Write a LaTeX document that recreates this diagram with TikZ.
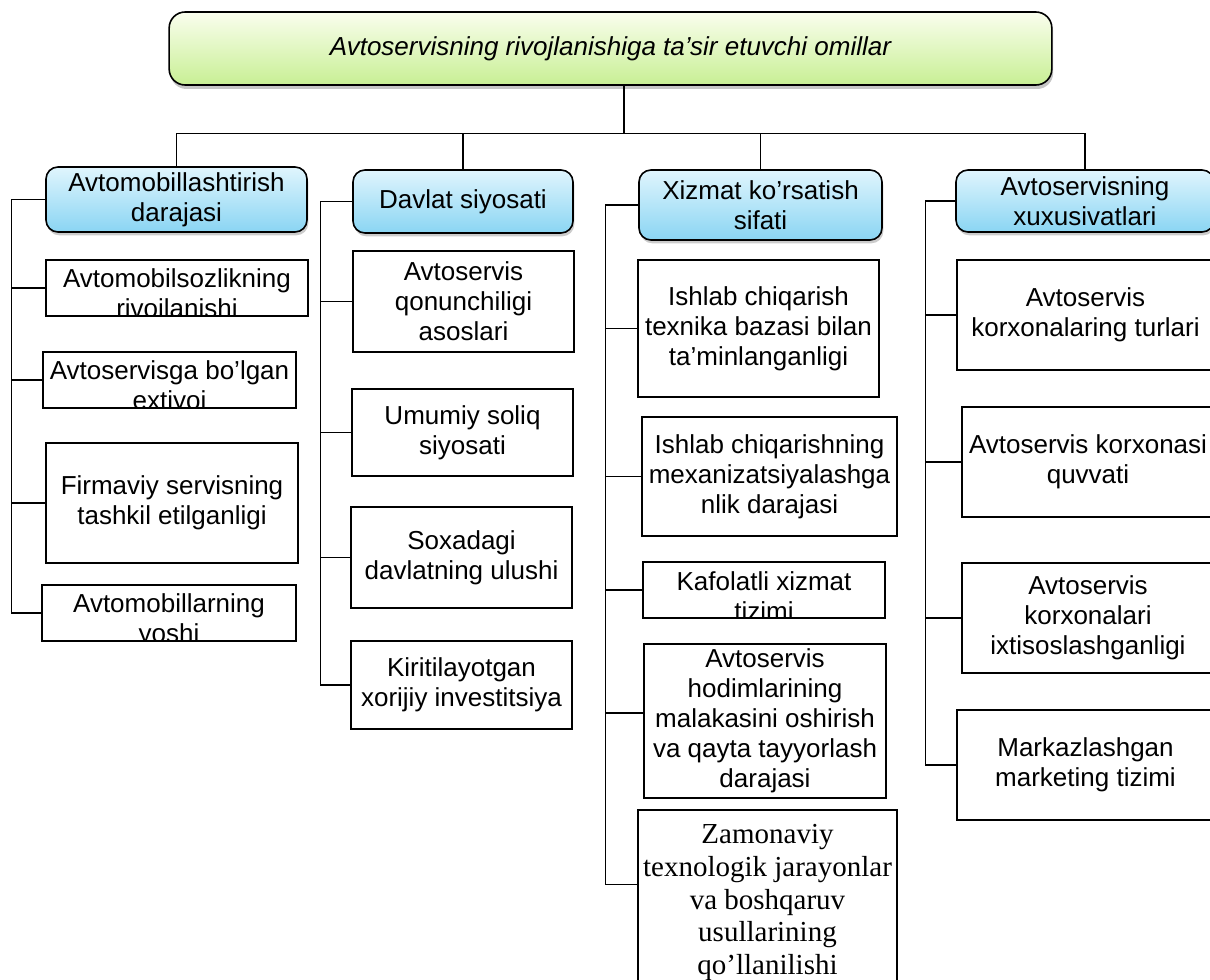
\documentclass[tikz,border=0pt]{standalone}
\usepackage{fontspec}
\setmainfont{Liberation Sans}
\newfontfamily\timesfont{Liberation Serif}
\usetikzlibrary{shadows}
\definecolor{hdtop}{RGB}{224,245,253}
\definecolor{hdbot}{RGB}{138,213,243}
\definecolor{ttltop}{RGB}{250,254,238}
\definecolor{ttlbot}{RGB}{200,239,148}

\begin{document}
\begin{tikzpicture}[x=0.75pt,y=-0.75pt,
  txt/.style={font=\fontsize{19.5}{22.5}\selectfont,align=center,inner sep=0pt},
  leaf/.style={draw,line width=1.4pt,fill=white,txt},
  headbox/.style={draw,line width=1.2pt,rounded corners=9pt,top color=hdtop,bottom color=hdbot,
    drop shadow={shadow xshift=1pt,shadow yshift=-2.5pt,opacity=.4},txt},
  titlebox/.style={draw,line width=1.2pt,rounded corners=12pt,top color=ttltop,bottom color=ttlbot,
    drop shadow={shadow xshift=1pt,shadow yshift=-3pt,opacity=.45},txt,font=\fontsize{19.5}{22.5}\selectfont\itshape},
  link/.style={line width=1pt}]
\useasboundingbox (0,0) rectangle (1210,980);
\clip (0,0) rectangle (1210,980);

\node[titlebox,minimum width=662pt,minimum height=54.75pt] (omil) at (610.5,48.5) {Avtoservisning rivojlanishiga ta’sir etuvchi omillar};

\node[headbox,minimum width=195.75pt,minimum height=48.75pt] (h1) at (176.5,199.5) {Avtomobillashtirish\\darajasi};
\node[headbox,minimum width=165pt,minimum height=47.25pt] (h2) at (463,201.5) {Davlat siyosati};
\node[headbox,minimum width=182.25pt,minimum height=52.5pt] (h3) at (760.5,205) {Xizmat ko’rsatish\\sifati};
\node[headbox,minimum width=193.5pt,minimum height=46.5pt] (h4) at (1085,201) {Avtoservisning\\xuxusivatlari};

\node[leaf,minimum width=196.5pt,minimum height=42pt] (b11) at (177,288) {};
\node[leaf,minimum width=189.75pt,minimum height=42pt] (b12) at (169.5,380) {};
\node[leaf,minimum width=189pt,minimum height=90pt] (b13) at (172,503) {Firmaviy servisning\\tashkil etilganligi};
\node[leaf,minimum width=190.5pt,minimum height=42pt] (b14) at (169,613) {};

\node[leaf,minimum width=165.75pt,minimum height=75.75pt] (b21) at (463.5,301.5) {Avtoservis\\qonunchiligi\\asoslari};
\node[leaf,minimum width=165.75pt,minimum height=65.25pt] (b22) at (462.5,432.5) {Umumiy soliq\\siyosati};
\node[leaf,minimum width=165.75pt,minimum height=75.75pt] (b23) at (461.5,557.5) {Soxadagi\\davlatning ulushi};
\node[leaf,minimum width=165.75pt,minimum height=66pt] (b24) at (461.5,685) {Kiritilayotgan\\xorijiy investitsiya};

\node[leaf,minimum width=180.75pt,minimum height=102.75pt] (b31) at (758.5,328.5) {Ishlab chiqarish\\texnika bazasi bilan\\ta’minlanganligi};
\node[leaf,minimum width=191.25pt,minimum height=89.25pt] (b32) at (769.5,476.5) {Ishlab chiqarishning\\mexanizatsiyalashga\\nlik darajasi};
\node[leaf,minimum width=181.5pt,minimum height=42pt] (b33) at (764,590) {};
\node[leaf,minimum width=181.5pt,minimum height=115.5pt] (b34) at (765,721) {Avtoservis\\hodimlarining\\malakasini oshirish\\va qayta tayyorlash\\darajasi};
\node[leaf,minimum width=194.25pt,minimum height=138.75pt,font=\fontsize{21.75}{24.5}\selectfont\timesfont] (b35) at (767.5,902.5) {Zamonaviy\\texnologik jarayonlar\\va boshqaruv\\usullarining\\qo’llanilishi};

\node[leaf,minimum width=192.75pt,minimum height=82.5pt] (b41) at (1085.5,315) {Avtoservis\\korxonalaring turlari};
\node[leaf,minimum width=189pt,minimum height=82.5pt] (b42) at (1088,462) {Avtoservis korxonasi\\quvvati};
\node[leaf,minimum width=189pt,minimum height=82.5pt] (b43) at (1088,618) {Avtoservis\\korxonalari\\ixtisoslashganligi};
\node[leaf,minimum width=192.75pt,minimum height=82.5pt] (b44) at (1085.5,765) {Markazlashgan\\marketing tizimi};

\begin{scope}
\clip (b11.south west) rectangle (b11.north east);
\node[txt] (t11) at ([yshift=-5.5pt]b11.center) {Avtomobilsozlikning\\rivojlanishi};
\end{scope}
\begin{scope}
\clip (b12.south west) rectangle (b12.north east);
\node[txt] (t12) at ([yshift=-5.5pt]b12.center) {Avtoservisga bo’lgan\\extiyoj};
\end{scope}
\begin{scope}
\clip (b14.south west) rectangle (b14.north east);
\node[txt] (t14) at ([yshift=-5.5pt]b14.center) {Avtomobillarning\\yoshi};
\end{scope}
\begin{scope}
\clip (b33.south west) rectangle (b33.north east);
\node[txt] (t33) at ([yshift=-4.3pt]b33.center) {Kafolatli xizmat\\tizimi};
\end{scope}

\draw[link] ([xshift=10pt]omil.south) -- ++(0,48) -| (h1.north);
\draw[link] ([xshift=10pt]omil.south) -- ++(0,48) -| (h2.north);
\draw[link] ([xshift=10pt]omil.south) -- ++(0,48) -| (h3.north);
\draw[link] ([xshift=10pt]omil.south) -- ++(0,48) -| (h4.north);

\draw[link] (h1.west) -- ++(-34,0) |- (b11.west);
\draw[link] (h1.west) -- ++(-34,0) |- (b12.west);
\draw[link] (h1.west) -- ++(-34,0) |- (b13.west);
\draw[link] (h1.west) -- ++(-34,0) |- (b14.west);

\draw[link] (h2.west) -- ++(-32,0) |- (b21.west);
\draw[link] (h2.west) -- ++(-32,0) |- (b22.west);
\draw[link] (h2.west) -- ++(-32,0) |- (b23.west);
\draw[link] (h2.west) -- ++(-32,0) |- (b24.west);

\draw[link] (h3.west) -- ++(-33,0) |- (b31.west);
\draw[link] (h3.west) -- ++(-33,0) |- (b32.west);
\draw[link] (h3.west) -- ++(-33,0) |- (b33.west);
\draw[link] (h3.west) -- ++(-33,0) |- ([yshift=6pt]b34.west);
\draw[link] (h3.west) -- ++(-33,0) |- ([yshift=13.5pt]b35.west);

\draw[link] (h4.west) -- ++(-30,0) |- (b41.west);
\draw[link] (h4.west) -- ++(-30,0) |- (b42.west);
\draw[link] (h4.west) -- ++(-30,0) |- (b43.west);
\draw[link] (h4.west) -- ++(-30,0) |- (b44.west);
\end{tikzpicture}
\end{document}
